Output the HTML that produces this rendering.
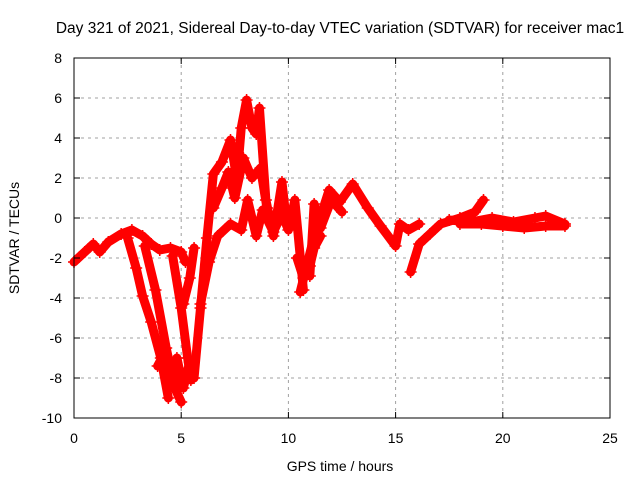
<!DOCTYPE html>
<html><head><meta charset="utf-8"><style>
html,body{margin:0;padding:0;background:#fff}
svg{display:block;font-family:"Liberation Sans",Arial,sans-serif}
</style></head><body>
<svg id="chart" width="640" height="480" viewBox="0 0 640 480" xmlns="http://www.w3.org/2000/svg">
<rect width="640" height="480" fill="#fff"/>
<text x="340" y="33" font-size="15.5" text-anchor="middle">Day 321 of 2021, Sidereal Day-to-day VTEC variation (SDTVAR) for receiver mac1</text>
<g id="grid"></g>
<g id="series"></g>
<rect x="74" y="58" width="536" height="360" fill="none" stroke="#000" stroke-width="1"/>
<g id="ticks"></g>
<text x="340" y="471" font-size="14" text-anchor="middle">GPS time / hours</text>
<text transform="translate(19,238) rotate(-90)" font-size="14" text-anchor="middle">SDTVAR / TECUs</text>
</svg>
<script>
const xTicks=[0,5,10,15,20,25];
const yTicks=[-10,-8,-6,-4,-2,0,2,4,6,8];
const trackA=[[0,-2.2],[0.5,-1.7],[0.9,-1.3],[1.2,-1.7],[1.6,-1.2],[2.2,-0.8],[2.7,-0.6],[3.2,-0.9],[3.6,-1.3],[4.0,-1.6],[4.5,-1.5],[5.0,-1.7],[5.2,-2.2]];
const trackB=[[2.5,-1.0],[2.9,-2.5],[3.2,-3.9],[3.6,-5.2],[4.05,-7.0],[4.4,-9.0]];
const trackC=[[3.3,-1.4],[3.8,-3.6],[4.3,-6.5],[4.7,-8.5],[5.0,-9.2]];
const trackD=[[4.6,-1.9],[5.0,-4.5],[5.3,-7.0],[5.45,-8.1]];
const trackE=[[5.1,-4.3],[5.4,-3.0],[5.6,-1.5]];
const trackF=[[5.6,-8.0],[5.9,-4.5],[6.2,-1.0],[6.5,2.2],[6.9,2.8],[7.3,3.9],[7.6,1.9],[7.8,4.5],[8.05,5.9],[8.3,4.5],[8.5,4.2],[8.65,5.5],[8.95,0.9],[9.3,-0.9],[9.7,1.8],[9.9,-0.1]];
const trackG=[[5.9,-4.3],[6.3,-2.2],[6.7,-0.9],[7.3,-0.3],[7.8,-0.6],[8.1,0.9],[8.5,-0.9],[8.8,0.4],[9.3,-0.7],[9.7,0.2],[10.0,-0.6],[10.3,0.9],[10.7,-3.6]];
const trackH=[[10.55,-3.7],[10.9,-2.2],[11.3,-0.5],[11.6,0.4],[11.9,1.4],[12.4,0.8],[13.0,1.7],[13.7,0.5],[14.3,-0.4],[15.0,-1.4],[15.2,-0.3],[15.6,-0.6],[16.1,-0.3]];
const trackI=[[11.0,-2.9],[11.2,0.7],[11.5,-0.5],[12.0,0.9],[12.5,0.3]];
const trackJ=[[15.7,-2.7],[16.1,-1.3],[16.6,-0.8],[17.1,-0.3],[18.0,0.0],[18.7,0.3],[19.1,0.9]];
const trackK=[[17.5,-0.1],[18.5,-0.2],[19.5,0.0],[20.5,-0.2],[21.5,0.0],[22.0,0.1],[22.9,-0.3]];
const trackL=[[18.0,-0.3],[19.0,-0.3],[20.0,-0.4],[21.0,-0.5],[22.0,-0.4],[22.9,-0.4]];
const trackM=[[3.9,-7.4],[4.2,-6.8],[4.5,-8.3],[4.8,-7.0],[5.1,-8.5],[5.4,-7.2]];
const trackN=[[10.4,-2.0],[10.7,-3.0],[11.0,-2.4],[11.2,-1.5],[11.5,-0.9]];
const trackO=[[6.5,0.5],[6.9,1.5],[7.2,2.3],[7.5,1.0],[7.9,3.0],[8.3,2.0],[8.7,2.5],[9.0,0.5]];
const tracks=[trackA,trackB,trackC,trackD,trackE,trackF,trackG,trackH,trackI,trackJ,trackK,trackL,trackM,trackN,trackO];
const NS='http://www.w3.org/2000/svg';
const X=t=>74+t*536/25, Y=v=>58+(8-v)*20;
const grid=document.getElementById('grid'),ticks=document.getElementById('ticks'),ser=document.getElementById('series');
function mk(tag,attrs,parent){const e=document.createElementNS(NS,tag);for(const k in attrs)e.setAttribute(k,attrs[k]);parent.appendChild(e);return e;}
xTicks.forEach(t=>{
  if(t>0&&t<25){const l=mk('line',{x1:X(t),x2:X(t),y1:58,y2:418,stroke:'#a0a0a0','stroke-dasharray':'3,4'},grid);
  
  }
  mk('line',{x1:X(t),x2:X(t),y1:418,y2:412,stroke:'#000'},ticks);
  mk('line',{x1:X(t),x2:X(t),y1:58,y2:64,stroke:'#000'},ticks);
  const tx=mk('text',{x:X(t),y:443,'font-size':14,'text-anchor':'middle'},ticks);tx.textContent=t;
  
  
});
yTicks.forEach(v=>{
  if(v>-10&&v<8){const l=mk('line',{x1:74,x2:610,y1:Y(v),y2:Y(v),stroke:'#a0a0a0','stroke-dasharray':'3,4'},grid);
  
  }
  mk('line',{x1:74,x2:80,y1:Y(v),y2:Y(v),stroke:'#000'},ticks);
  mk('line',{x1:610,x2:604,y1:Y(v),y2:Y(v),stroke:'#000'},ticks);
  const tx=mk('text',{x:62,y:Y(v)+5,'font-size':14,'text-anchor':'end'},ticks);tx.textContent=v;
  
  
});
tracks.forEach((tr,i)=>{
  const pl=mk('polyline',{points:tr.map(p=>X(p[0])+','+Y(p[1])).join(' '),fill:'none',stroke:'#ff0000','stroke-width':9,'stroke-linejoin':'round','stroke-linecap':'round'},ser);
  
  
  tr.forEach(p=>{
    const m=mk('path',{d:`M${X(p[0])-6},${Y(p[1])}h12M${X(p[0])},${Y(p[1])-6}v12`,stroke:'#ff0000','stroke-width':1.5},ser);
    
    
  });
});
</script>
</body></html>
